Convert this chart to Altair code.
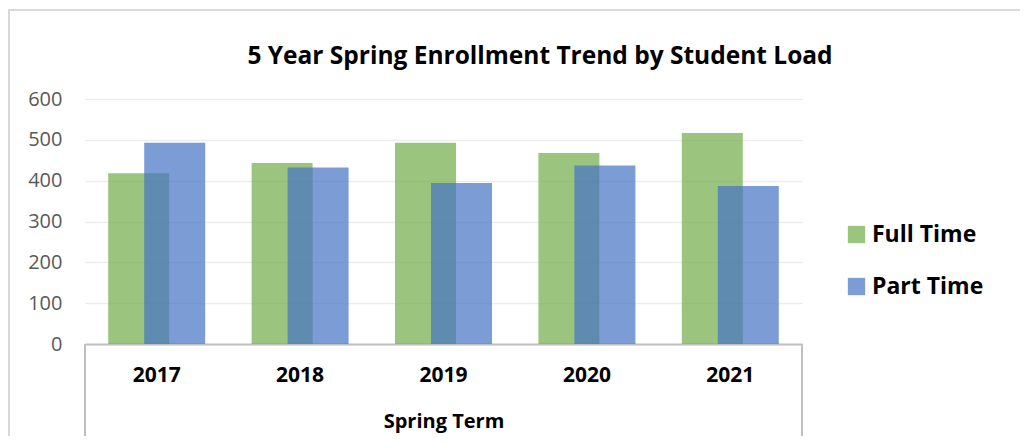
import altair as alt
import pandas as pd

years = ["2017", "2018", "2019", "2020", "2021"]
full_time = [418, 443, 493, 468, 517]
part_time = [493, 432, 394, 437, 387]
series = ["Full Time", "Part Time"]
colors = ["#70AD47", "#4472C4"]
y_ticks = [0, 100, 200, 300, 400, 500, 600]
title_text = "5 Year Spring Enrollment Trend by Student Load"

W, H = 717, 245

df = pd.DataFrame(
    {"year": years * 2,
     "value": full_time + part_time,
     "load": ["Full Time"] * 5 + ["Part Time"] * 5}
)

color_scale = alt.Scale(domain=series, range=colors)

x_enc = alt.X(
    "year:N",
    sort=years,
    scale=alt.Scale(paddingInner=0, paddingOuter=0),
    axis=alt.Axis(
        title="Spring Term",
        labelAngle=0,
        labelFont="Open Sans",
        labelFontWeight="bold",
        labelFontSize=21,
        labelColor="#000000",
        labelPadding=20,
        ticks=False,
        domainColor="#BFBFBF",
        domainWidth=2,
        titleFont="Open Sans",
        titleFontWeight="bold",
        titleFontSize=20,
        titleColor="#000000",
        titlePadding=26,
        grid=False,
    ),
)
y_enc = alt.Y(
    "value:Q",
    scale=alt.Scale(domain=[0, 600], nice=False),
    axis=alt.Axis(
        title=None,
        values=y_ticks,
        labelFont="Open Sans",
        labelFontSize=20,
        labelColor="#595959",
        labelPadding=23,
        ticks=False,
        domain=False,
        gridColor="#EDEDED",
        gridWidth=1.5,
    ),
)

legend = alt.Legend(
    title=None,
    orient="none",
    legendX=760,
    legendY=124,
    symbolType="square",
    symbolSize=300,
    symbolOpacity=0.7,
    symbolStrokeWidth=0,
    labelFont="Open Sans",
    labelFontSize=23,
    labelFontWeight="bold",
    labelColor="#000000",
    rowPadding=28,
    labelOffset=4,
    padding=0,
)

full = alt.Chart(df).transform_filter(alt.datum.load == "Full Time").mark_bar(
    width=61, xOffset=-18, opacity=0.7
).encode(
    x=x_enc, y=y_enc,
    color=alt.Color("load:N", scale=color_scale, legend=legend),
)
part = alt.Chart(df).transform_filter(alt.datum.load == "Part Time").mark_bar(
    width=61, xOffset=18, opacity=0.7
).encode(
    x=x_enc, y=y_enc,
    color=alt.Color("load:N", scale=color_scale, legend=legend),
)

title = alt.Chart(pd.DataFrame({"t": [title_text]})).mark_text(
    font="Open Sans", fontSize=24.5, fontWeight="bold", color="#000000",
    align="center", baseline="middle",
).encode(x=alt.value(455), y=alt.value(-42), text="t:N")

# decorative frame lines (category axis box & chart border)
left_box = alt.Chart(df).mark_rule(color="#BFBFBF", strokeWidth=2).encode(
    x=alt.value(0), y=alt.value(H), y2=alt.value(H + 100)
)
right_box = alt.Chart(df).mark_rule(color="#BFBFBF", strokeWidth=2).encode(
    x=alt.value(W), y=alt.value(H), y2=alt.value(H + 100)
)
top_border = alt.Chart(df).mark_rule(color="#D9D9D9", strokeWidth=2).encode(
    x=alt.value(-77), x2=alt.value(W + 240), y=alt.value(-89)
)
left_border = alt.Chart(df).mark_rule(color="#D9D9D9", strokeWidth=2).encode(
    x=alt.value(-76), y=alt.value(-89), y2=alt.value(H + 100)
)

chart = alt.layer(full, part, title, left_box, right_box, top_border, left_border).properties(
    width=W,
    height=H,
    autosize=alt.AutoSizeParams(type="none"),
    padding={"left": 77, "top": 91, "right": 218, "bottom": 92},
).configure_view(stroke=None)

chart.save("out.html", embed_options={"renderer": "svg", "actions": False})
